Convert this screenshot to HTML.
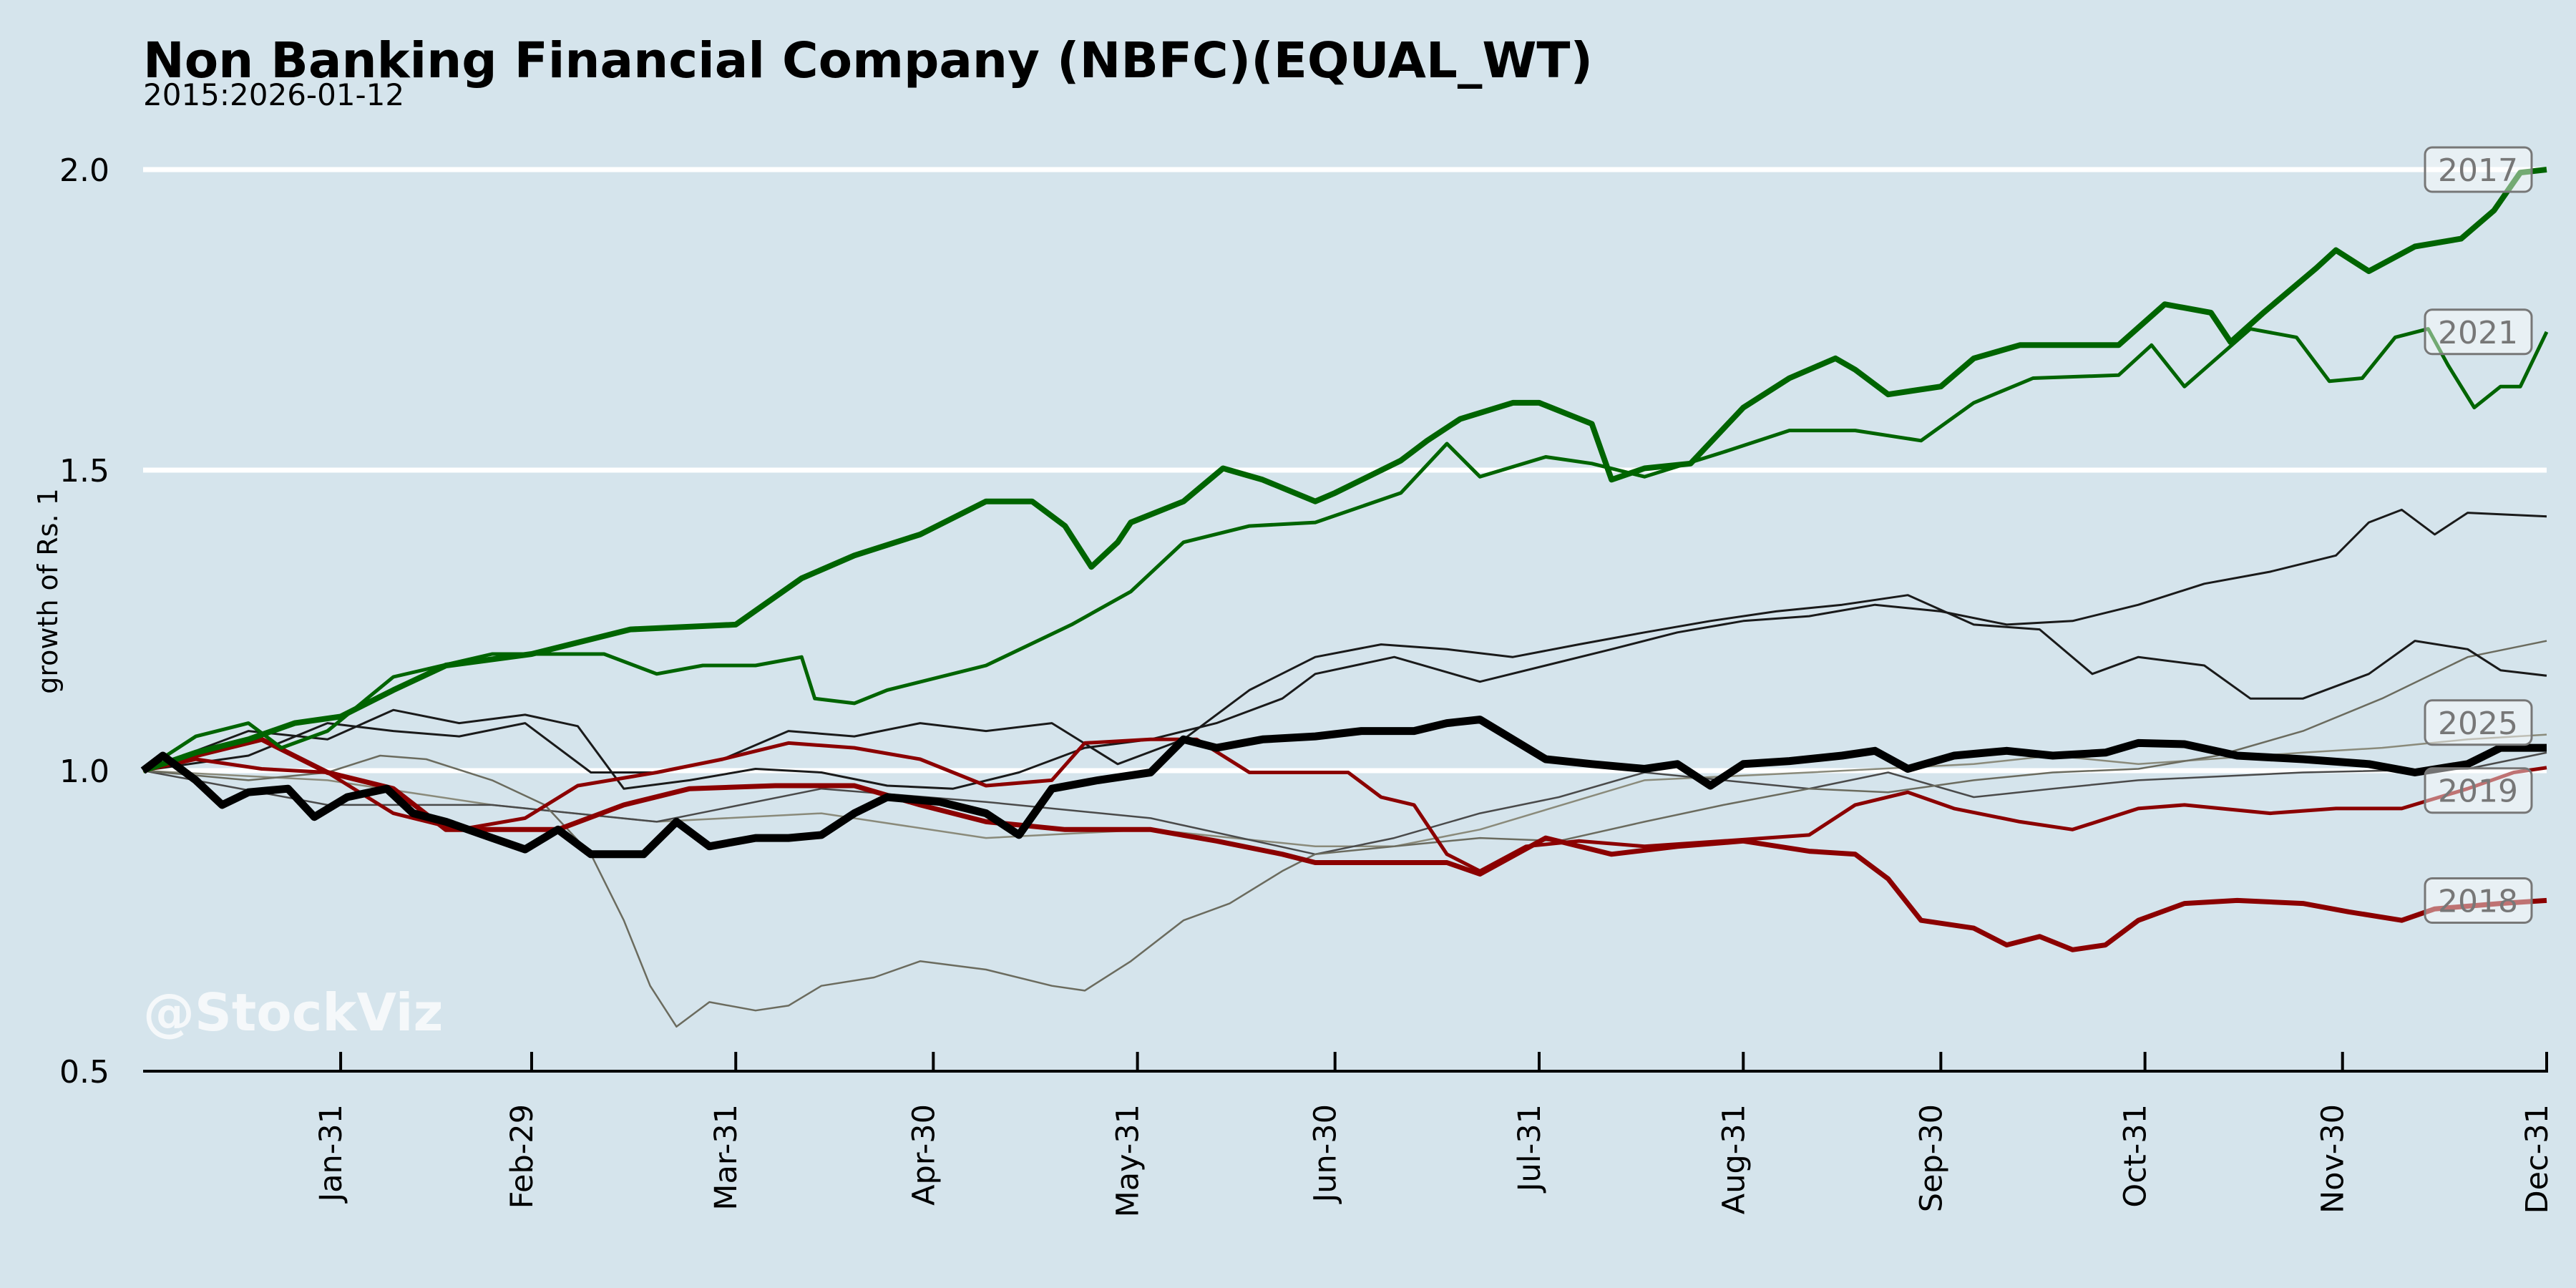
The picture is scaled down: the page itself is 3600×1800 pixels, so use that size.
<!DOCTYPE html>
<html><head><meta charset="utf-8"><style>
html,body{margin:0;padding:0;background:#d5e4ec;}
svg{display:block;font-family:"DejaVu Sans","Liberation Sans",sans-serif;}
</style></head><body>
<svg id="chart" width="3600" height="1800" viewBox="0 0 3600 1800">
<rect x="0" y="0" width="3600" height="1800" fill="#d5e4ec"/>
<text x="200" y="108" font-size="69" font-weight="bold" fill="#000">Non Banking Financial Company (NBFC)(EQUAL_WT)</text>
<text x="200" y="147" font-size="42" fill="#000">2015:2026-01-12</text>
<g id="grid"></g>
<g id="series"></g>
<g id="axes"></g>
<g id="labels"></g>
<text x="200" y="1440" font-size="72" font-weight="bold" fill="#ffffff" fill-opacity="0.75">@StockViz</text>
<text transform="translate(80,826) rotate(-90)" text-anchor="middle" font-size="38" fill="#000">growth of Rs. 1</text>
</svg>
<script>
const yTicks=[0.5,1.0,1.5,2.0];
const yTickLabels=["0.5","1.0","1.5","2.0"];
const gridValues=[1.0,1.5,2.0];
const xTickDays=[30,59,90,120,151,181,212,243,273,304,334,365];
const xTickLabels=["Jan-31","Feb-29","Mar-31","Apr-30","May-31","Jun-30","Jul-31","Aug-31","Sep-30","Oct-31","Nov-30","Dec-31"];

const days2017=[0,8,16,23,30,38,46,59,74,90,100,108,118,128,135,140,144,148,150,158,164,170,178,181,191,195,200,208,212,220,223,228,235,243,250,257,260,265,273,278,285,300,307,314,317,322,330,333,338,345,352,357,361,365];
const vals2017=[1.0,1.03,1.052,1.079,1.09,1.134,1.175,1.194,1.235,1.243,1.32,1.358,1.393,1.448,1.448,1.407,1.339,1.38,1.413,1.448,1.503,1.484,1.448,1.462,1.516,1.549,1.585,1.612,1.612,1.577,1.484,1.503,1.511,1.604,1.653,1.686,1.667,1.626,1.639,1.686,1.708,1.708,1.776,1.762,1.713,1.762,1.836,1.866,1.831,1.872,1.885,1.932,1.995,2.0];
const days2021=[0,8,16,21,28,38,53,70,78,85,93,100,102,108,113,128,141,150,158,168,178,191,198,203,213,220,228,240,250,260,270,278,287,300,305,310,320,327,332,337,342,347,350,354,358,361,365];
const vals2021=[1.0,1.057,1.079,1.038,1.066,1.156,1.194,1.194,1.161,1.175,1.175,1.189,1.12,1.112,1.134,1.175,1.243,1.298,1.38,1.407,1.413,1.462,1.544,1.489,1.522,1.511,1.489,1.53,1.566,1.566,1.549,1.612,1.653,1.658,1.708,1.639,1.735,1.721,1.648,1.653,1.721,1.735,1.675,1.604,1.639,1.639,1.73];
const days2025=[0,3,8,12,16,22,26,31,37,41,46,53,58,63,68,76,81,86,93,98,103,108,113,121,128,133,138,145,153,158,163,170,178,185,193,198,203,208,213,220,228,233,238,243,250,258,263,268,275,283,290,298,303,310,318,328,338,345,353,358,365];
const vals2025=[1.0,1.025,0.984,0.943,0.964,0.97,0.923,0.956,0.97,0.929,0.915,0.888,0.869,0.902,0.861,0.861,0.915,0.874,0.888,0.888,0.893,0.929,0.956,0.948,0.929,0.893,0.97,0.984,0.997,1.052,1.038,1.052,1.057,1.066,1.066,1.079,1.085,1.052,1.019,1.011,1.003,1.011,0.975,1.011,1.016,1.025,1.033,1.003,1.025,1.033,1.025,1.03,1.046,1.044,1.025,1.019,1.011,0.997,1.011,1.038,1.038];
const days2018=[0,8,18,28,38,46,63,73,83,96,108,118,128,140,153,163,173,178,198,203,213,223,233,243,253,260,265,270,278,283,288,293,298,303,310,318,328,335,343,348,358,365];
const vals2018=[1.0,1.025,1.052,0.997,0.97,0.902,0.902,0.943,0.97,0.975,0.975,0.943,0.915,0.902,0.902,0.883,0.861,0.847,0.847,0.828,0.888,0.861,0.874,0.883,0.866,0.861,0.82,0.751,0.738,0.71,0.724,0.702,0.71,0.751,0.779,0.784,0.779,0.765,0.751,0.77,0.779,0.784];
const days2019=[0,8,18,28,38,48,58,66,78,88,98,108,118,128,138,143,153,160,168,175,183,188,193,198,203,210,218,228,240,253,260,268,275,285,293,303,310,323,333,343,353,360,365];
const vals2019=[1.0,1.019,1.003,0.997,0.929,0.902,0.921,0.975,0.997,1.019,1.046,1.038,1.019,0.975,0.984,1.046,1.052,1.052,0.997,0.997,0.997,0.956,0.943,0.861,0.833,0.874,0.883,0.874,0.883,0.893,0.943,0.964,0.937,0.915,0.902,0.937,0.943,0.929,0.937,0.937,0.97,0.997,1.005];
const days2020=[0,16,28,36,43,53,61,68,73,77,81,86,93,98,103,111,118,128,138,143,150,158,165,173,178,190,203,215,228,240,253,265,278,290,303,315,328,340,353,365];
const vals2020=[1.0,0.984,0.997,1.025,1.019,0.984,0.943,0.861,0.751,0.642,0.574,0.615,0.601,0.609,0.642,0.656,0.683,0.669,0.642,0.634,0.683,0.751,0.779,0.833,0.861,0.874,0.888,0.883,0.915,0.943,0.97,0.964,0.984,0.997,1.003,1.025,1.066,1.12,1.189,1.216];
const daysA=[0,16,28,38,48,58,66,73,83,93,103,113,123,133,143,153,163,173,178,190,203,213,223,233,243,253,263,273,283,293,303,313,323,333,338,343,348,353,365];
const valsA=[1.0,1.066,1.052,1.101,1.079,1.093,1.074,0.97,0.984,1.003,0.997,0.975,0.97,0.997,1.038,1.052,1.079,1.12,1.161,1.189,1.148,1.175,1.202,1.23,1.249,1.257,1.276,1.265,1.243,1.249,1.276,1.311,1.331,1.358,1.413,1.434,1.393,1.429,1.423];
const daysB=[0,16,28,38,48,58,68,78,88,98,108,118,128,138,148,158,168,178,188,198,208,218,228,238,248,258,268,278,288,296,303,313,320,328,338,345,353,358,365];
const valsB=[1.0,1.025,1.079,1.066,1.057,1.079,0.997,0.997,1.019,1.066,1.057,1.079,1.066,1.079,1.011,1.052,1.134,1.189,1.21,1.202,1.189,1.21,1.23,1.249,1.265,1.276,1.292,1.243,1.235,1.161,1.189,1.175,1.12,1.12,1.161,1.216,1.202,1.167,1.158];
const daysC=[0,28,53,78,103,128,153,178,190,203,228,253,278,290,303,328,340,353,365];
const valsC=[1.0,0.984,0.943,0.915,0.929,0.888,0.902,0.874,0.874,0.902,0.984,0.997,1.011,1.025,1.011,1.03,1.038,1.052,1.06];
const daysD=[0,28,53,78,103,128,153,178,190,203,215,228,253,265,278,290,303,328,353,365];
const valsD=[1.0,0.943,0.943,0.915,0.97,0.948,0.921,0.861,0.888,0.929,0.956,0.997,0.97,0.997,0.956,0.97,0.984,0.997,1.003,1.03];

const labelYears=["2017","2021","2025","2019","2018"];
const labelValues=[2.0,1.73,1.08,0.967,0.784];

const X0=200,X1=3559,Y0=1077,PX=840;
function xs(d){return X0+d*(X1-X0)/365;}
function ys(v){return Y0-(v-1)*PX;}
const NS="http://www.w3.org/2000/svg";
function mk(tag,attrs,parent){const e=document.createElementNS(NS,tag);for(const k in attrs)e.setAttribute(k,attrs[k]);parent.appendChild(e);return e;}

const grid=document.getElementById('grid');
gridValues.forEach(v=>{
  const l=mk('line',{x1:X0,x2:X1,y1:ys(v),y2:ys(v),stroke:'#ffffff','stroke-width':7},grid);
  
  
});

const series=document.getElementById('series');
const specs=[
 {d:daysC,v:valsC,c:'#8a8a7a',w:2.5,n:'line-gray-c'},
 {d:daysD,v:valsD,c:'#4a4a4a',w:2.5,n:'line-gray-d'},
 {d:days2020,v:vals2020,c:'#6b6b5e',w:2.5,n:'line-2020'},
 {d:daysA,v:valsA,c:'#1a1a1a',w:3,n:'line-black-a'},
 {d:daysB,v:valsB,c:'#1a1a1a',w:3,n:'line-black-b'},
 {d:days2019,v:vals2019,c:'#8b0000',w:5,n:'line-2019'},
 {d:days2018,v:vals2018,c:'#8b0000',w:7,n:'line-2018'},
 {d:days2021,v:vals2021,c:'#006400',w:5,n:'line-2021'},
 {d:days2017,v:vals2017,c:'#006400',w:8,n:'line-2017'},
 {d:days2025,v:vals2025,c:'#000000',w:11,n:'line-2025'}
];
specs.forEach(s=>{
  const pts=s.d.map((d,i)=>xs(d).toFixed(1)+','+ys(s.v[i]).toFixed(1)).join(' ');
  const p=mk('polyline',{points:pts,fill:'none',stroke:s.c,'stroke-width':s.w,'stroke-linejoin':'round'},series);
  
  
});

const axes=document.getElementById('axes');
const ax=mk('line',{x1:X0,x2:X1+2,y1:1497,y2:1497,stroke:'#000','stroke-width':4},axes);


xTickDays.forEach((d,i)=>{
  const t=mk('line',{x1:xs(d),x2:xs(d),y1:1470,y2:1497,stroke:'#000','stroke-width':4},axes);
  
  
  const tx=mk('text',{transform:'translate('+(xs(d)+1)+',1543) rotate(-90)','text-anchor':'end','font-size':43,fill:'#000'},axes);
  tx.textContent=xTickLabels[i];
  
  
});
yTicks.forEach((v,i)=>{
  const tx=mk('text',{x:153,y:ys(v)+16,'text-anchor':'end','font-size':44,fill:'#000'},axes);
  tx.textContent=yTickLabels[i];
  
  
});

const labels=document.getElementById('labels');
labelYears.forEach((yr,i)=>{
  const cy=ys(labelValues[i]);
  const r=mk('rect',{x:3389,y:cy-31,width:149,height:62,rx:10,fill:'#ffffff','fill-opacity':0.45,stroke:'#777','stroke-width':3},labels);
  
  
  const t=mk('text',{x:3463,y:cy+16,'text-anchor':'middle','font-size':44,fill:'#777'},labels);
  t.textContent=yr;
  
  
});
</script>
</body></html>
